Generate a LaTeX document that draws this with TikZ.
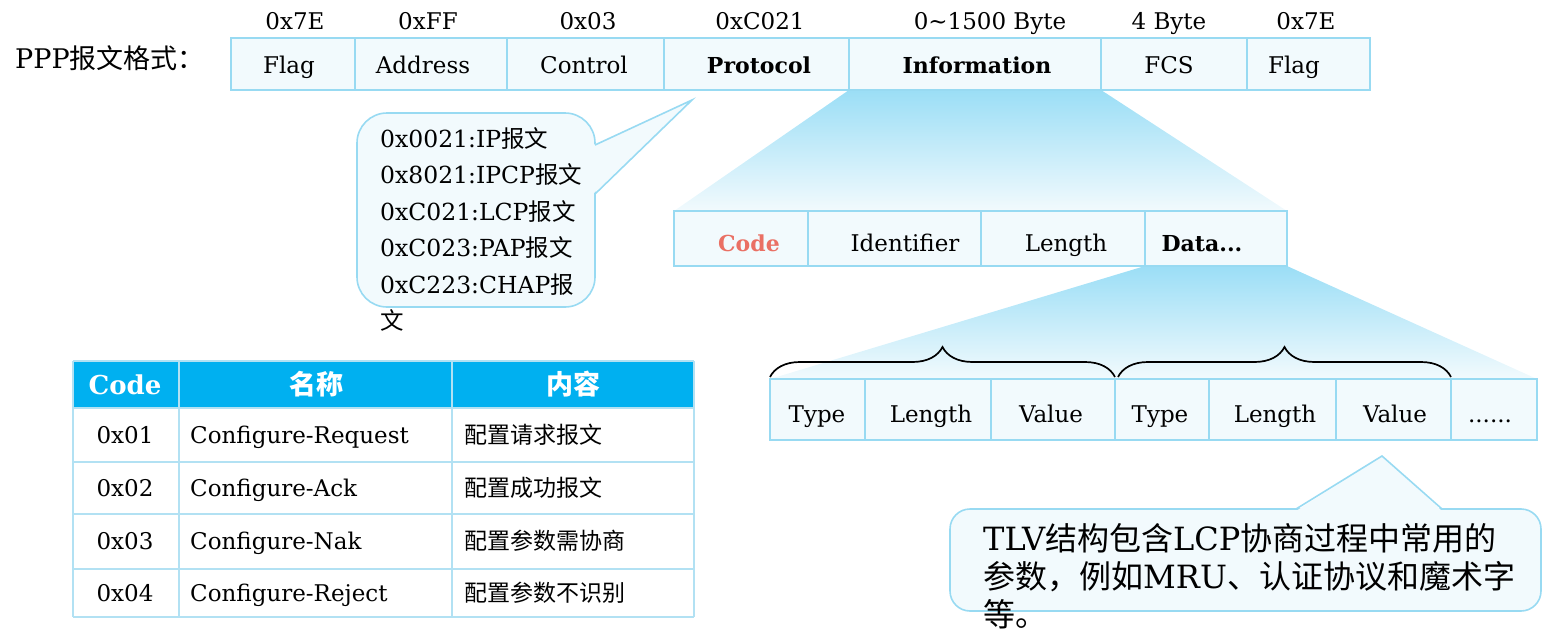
\documentclass[tikz,border=0pt]{standalone}
\usepackage{fontspec}
\setmainfont{DejaVu Serif}
\newfontfamily\cjk{Noto Sans CJK SC}
\usetikzlibrary{decorations.pathreplacing,backgrounds}
\definecolor{bdr}{RGB}{152,218,242}
\definecolor{lfill}{RGB}{242,250,253}
\definecolor{gtop}{RGB}{155,222,246}
\definecolor{hdr}{RGB}{0,176,240}
\definecolor{tline}{RGB}{178,225,243}
\definecolor{codered}{RGB}{234,112,100}
\tikzset{
  cell/.style={draw=bdr, fill=lfill, line width=1.6pt, anchor=north west, inner sep=0pt, outer sep=0pt},
  t/.style={anchor=base, inner sep=0pt, font=\fontsize{23}{28}\selectfont},
  tw/.style={anchor=base west, inner sep=0pt, font=\fontsize{23}{28}\selectfont},
  tc/.style={anchor=base west, inner sep=0pt, font=\fontsize{23.5}{28}\selectfont},
  t2/.style={anchor=base west, inner sep=0pt, font=\fontsize{32}{36}\selectfont},
  callout/.style={draw=bdr, fill=lfill, line width=1.6pt},
  grad/.style={top color=gtop, bottom color=lfill},
  tbl/.style={draw=tline, line width=1.5pt},
  bracestyle/.style={decorate, decoration={brace, amplitude=30pt}, line width=1.7pt, black},
}
\begin{document}
\begin{tikzpicture}[x=1pt,y=-1pt]
\useasboundingbox (0,0) rectangle (1543,637);

% title
\node[anchor=base west, inner sep=0pt, font=\fontsize{27}{30}\selectfont] (title) at (15,68) {PPP{\cjk 报文格式：}};

% top labels
\node[t] (lb1) at (295,29) {0x7E};
\node[t] (lb2) at (428,29) {0xFF};
\node[t] (lb3) at (588,29) {0x03};
\node[t] (lb4) at (760,29) {0xC021};
\node[t] (lb5) at (990,29) {0\textasciitilde 1500 Byte};
\node[t] (lb6) at (1169,29) {4 Byte};
\node[t] (lb7) at (1306,29) {0x7E};

% top row cells
\node[cell, minimum width=124pt, minimum height=52pt] (fA) at (231,38) {};
\node[cell, minimum width=152pt, minimum height=52pt] (addr) at (355,38) {};
\node[cell, minimum width=157pt, minimum height=52pt] (ctrl) at (507,38) {};
\node[cell, minimum width=185pt, minimum height=52pt] (proto) at (664,38) {};
\node[cell, minimum width=252pt, minimum height=52pt] (info) at (849,38) {};
\node[cell, minimum width=146pt, minimum height=52pt] (fcs) at (1101,38) {};
\node[cell, minimum width=123pt, minimum height=52pt] (fB) at (1247,38) {};
\node[t] (tfA) at (289,73) {Flag};
\node[t] (taddr) at (423,73) {Address};
\node[t] (tctrl) at (584,73) {Control};
\node[t, font=\fontsize{22}{28}\selectfont\bfseries] (tproto) at (759,73) {Protocol};
\node[t, font=\fontsize{22}{28}\selectfont\bfseries] (tinfo) at (977,73) {Information};
\node[t] (tfcs) at (1169,73) {FCS};
\node[t] (tfB) at (1294,73) {Flag};

% second row cells
\node[cell, minimum width=134pt, minimum height=55pt] (code) at (674,211) {};
\node[cell, minimum width=173pt, minimum height=55pt] (ident) at (808,211) {};
\node[cell, minimum width=164pt, minimum height=55pt] (len) at (981,211) {};
\node[cell, minimum width=142pt, minimum height=55pt] (data) at (1145,211) {};
\node[t, text=codered, font=\fontsize{22}{28}\selectfont\bfseries] (tcode) at (749,251) {Code};
\node[t] (tident) at (905,251) {Identifier};
\node[t] (tlen) at (1066,251) {Length};
\node[t, font=\fontsize{22}{28}\selectfont\bfseries] (tdata) at (1202,251) {Data...};

% TLV row
\node[cell, minimum width=95pt, minimum height=61pt] (ty1) at (770,379) {};
\node[cell, minimum width=126pt, minimum height=61pt] (le1) at (865,379) {};
\node[cell, minimum width=124pt, minimum height=61pt] (va1) at (991,379) {};
\node[cell, minimum width=94pt, minimum height=61pt] (ty2) at (1115,379) {};
\node[cell, minimum width=127pt, minimum height=61pt] (le2) at (1209,379) {};
\node[cell, minimum width=115pt, minimum height=61pt] (va2) at (1336,379) {};
\node[cell, minimum width=86pt, minimum height=61pt] (dots) at (1451,379) {};
\node[t] (tty1) at (817,422) {Type};
\node[t] (tle1) at (931,422) {Length};
\node[t] (tva1) at (1051,422) {Value};
\node[t] (tty2) at (1160,422) {Type};
\node[t] (tle2) at (1275,422) {Length};
\node[t] (tva2) at (1395,422) {Value};
\node[t] (tdots) at (1490,422) {......};

% gradients
\begin{scope}[on background layer]
  \shade[grad] (info.south west) -- (info.south east) -- (data.north east) -- (code.north west) -- cycle;
  \shade[grad] (data.south west) -- (data.south east) -- (dots.north east) -- (ty1.north west) -- cycle;
\end{scope}

% braces
\draw[bracestyle] ([yshift=2pt]ty1.north west) -- ([yshift=2pt]va1.north east);
\draw[bracestyle] ([yshift=2pt,xshift=3pt]ty2.north west) -- ([yshift=2pt]va2.north east);

% callout 1
\draw[callout, rounded corners=30pt] (357,113) rectangle (595,307);
\coordinate (p1a) at (595,145);
\coordinate (p1tip) at (692,100);
\coordinate (p1b) at (595,194);
\fill[lfill] ([xshift=-2pt]p1a) -- (p1tip) -- ([xshift=-2pt]p1b) -- cycle;
\draw[draw=bdr, line width=1.6pt, line join=miter] (p1a) -- (p1tip) -- (p1b);
\node[tc] (c1) at (380,147) {0x0021:IP{\cjk 报文}};
\node[tc] (c2) at (380,183.5) {0x8021:IPCP{\cjk 报文}};
\node[tc] (c3) at (380,220) {0xC021:LCP{\cjk 报文}};
\node[tc] (c4) at (380,256.5) {0xC023:PAP{\cjk 报文}};
\node[tc] (c5) at (380,293) {0xC223:CHAP{\cjk 报}};
\node[tc] (c6) at (380,329.5) {{\cjk 文}};

% callout 2
\draw[callout, rounded corners=20pt] (950,509) rectangle (1541,611);
\coordinate (p2a) at (1296,509);
\coordinate (p2tip) at (1382,456);
\coordinate (p2b) at (1442,509);
\fill[lfill] ([yshift=-2pt]p2a) -- (p2tip) -- ([yshift=-2pt]p2b) -- cycle;
\draw[draw=bdr, line width=1.6pt] (p2a) -- (p2tip) -- (p2b);
\node[t2] (b1) at (983,550) {TLV{\cjk 结构包含}LCP{\cjk 协商过程中常用的}};
\node[t2] (b2) at (983,588) {{\cjk 参数，例如}MRU{\cjk 、认证协议和魔术字}};
\node[t2] (b3) at (983,626) {{\cjk 等。}};

% table
\fill[hdr] (73,361) rectangle (694,408);
\foreach \yy in {361,408,462,514,569,617} \draw[tbl] (73,\yy) -- (694,\yy);
\foreach \xx in {73,179,452,694} \draw[tbl] (\xx,361) -- (\xx,617);
\node[t, text=white, font=\fontsize{26}{30}\selectfont\bfseries] (h1) at (125,394) {Code};
\node[t, text=white, font=\fontsize{27}{30}\selectfont\cjk\bfseries] (h2) at (316,394) {名称};
\node[t, text=white, font=\fontsize{27}{30}\selectfont\cjk\bfseries] (h3) at (573,394) {内容};
\node[t] (r1a) at (125,443) {0x01};
\node[t] (r2a) at (125,496) {0x02};
\node[t] (r3a) at (125,549) {0x03};
\node[t] (r4a) at (125,601) {0x04};
\node[tw] (r1b) at (190,443) {Configure-Request};
\node[tw] (r2b) at (190,496) {Configure-Ack};
\node[tw] (r3b) at (190,549) {Configure-Nak};
\node[tw] (r4b) at (190,601) {Configure-Reject};
\node[tw, font=\fontsize{23}{28}\selectfont\cjk] (r1c) at (464,443) {配置请求报文};
\node[tw, font=\fontsize{23}{28}\selectfont\cjk] (r2c) at (464,496) {配置成功报文};
\node[tw, font=\fontsize{23}{28}\selectfont\cjk] (r3c) at (464,549) {配置参数需协商};
\node[tw, font=\fontsize{23}{28}\selectfont\cjk] (r4c) at (464,601) {配置参数不识别};
\end{tikzpicture}
\end{document}
